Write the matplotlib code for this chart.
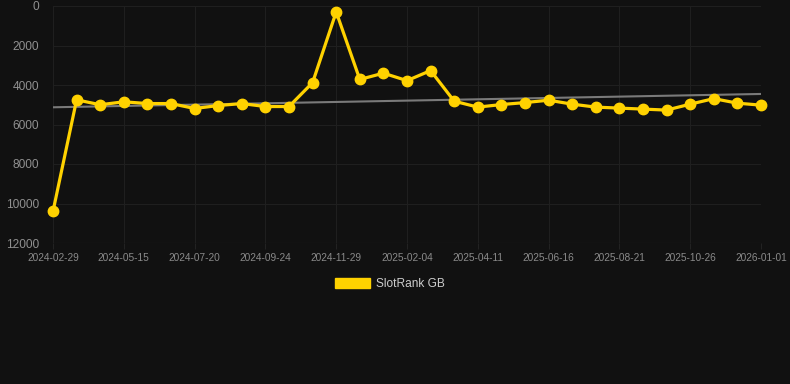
import matplotlib
matplotlib.use("Agg")
import matplotlib.pyplot as plt
import numpy as np
from matplotlib.patches import Patch

plt.rcParams['font.family'] = ['Liberation Sans', 'DejaVu Sans']

tick_labels = ["2024-02-29", "2024-05-15", "2024-07-20", "2024-09-24", "2024-11-29",
               "2025-02-04", "2025-04-11", "2025-06-16", "2025-08-21", "2025-10-26",
               "2026-01-01"]
ranks = [10400, 4750, 5000, 4850, 4940, 4940, 5190, 5040, 4940, 5090, 5090,
         3880, 300, 3720, 3400, 3780, 3270, 4820, 5120, 4990, 4890, 4770,
         4970, 5120, 5170, 5220, 5270, 4970, 4690, 4920, 5020]
series_name = "SlotRank GB"

bg = "#111111"
gold = "#FFD200"

fig = plt.figure(figsize=(7.9, 3.84), dpi=100, facecolor=bg)
ax = fig.add_axes([53/790, 1-243/384, (761-53)/790, (243-6)/384], facecolor=bg)

x = np.arange(len(ranks))
coef = np.polyfit(x, ranks, 1)
ax.plot(x, np.polyval(coef, x), color="#7a7a7a", lw=1.5, zorder=2)
ax.plot(x, ranks, color=gold, lw=2.3, marker="o", ms=7.5, mfc=gold, mec=gold,
        zorder=3, clip_on=False)

ax.set_xlim(0, len(ranks)-1)
ax.set_ylim(12000, 0)
ax.set_yticks(np.arange(0, 12001, 2000))
ax.set_xticks(x[::3])
ax.set_xticklabels(tick_labels)
ax.grid(True, color="#1f1f1f", lw=0.8)
ax.axhline(12000, color="#272727", lw=0.8, zorder=1)
for s in ax.spines.values():
    s.set_visible(False)
ax.tick_params(axis="y", colors="#909090", labelsize=8.6, length=0, pad=10)
ax.tick_params(axis="x", colors="#222222", labelcolor="#8a8a8a", labelsize=7.3, length=4, pad=3)

leg = fig.legend(handles=[Patch(facecolor=gold, edgecolor=gold, label=series_name)],
                 loc="center", bbox_to_anchor=(390/790, 1-284/384), frameon=False,
                 handlelength=2.9, handleheight=0.9, fontsize=8.6, labelcolor="#cccccc",
                 handletextpad=0.5)

fig.savefig("out.png", dpi=100, facecolor=bg)
